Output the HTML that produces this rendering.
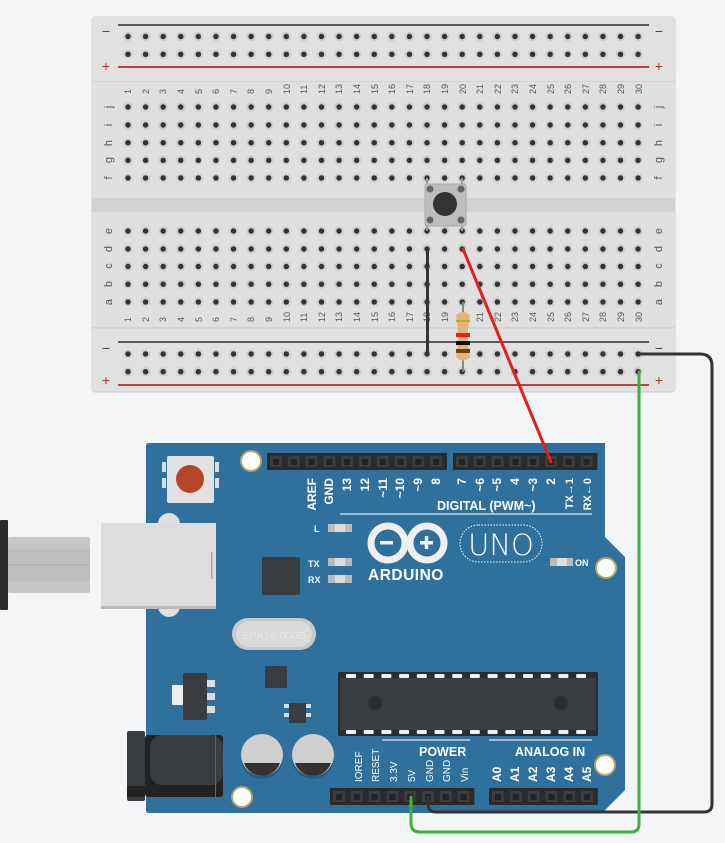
<!DOCTYPE html>
<html><head><meta charset="utf-8"><style>
html,body{margin:0;padding:0;background:#f3f5f7;}
svg{display:block;}
text{font-family:"Liberation Sans",sans-serif;}
</style></head><body>
<svg width="725" height="843" viewBox="0 0 725 843" xmlns="http://www.w3.org/2000/svg">
<rect width="725" height="843" fill="#f3f5f7"/>
<!-- breadboard -->
<rect x="92" y="17" width="583" height="375" rx="3" fill="#dcdcdc" stroke="#d0d0d0"/>
<rect x="92" y="17" width="583" height="64" rx="3" fill="#e1e1e1"/>
<rect x="92" y="81" width="583" height="1.5" fill="#d2d2d2"/>
<rect x="92" y="82" width="583" height="245" fill="#e0e0e0"/>
<rect x="92" y="198" width="583" height="14" fill="#d2d2d2"/>
<rect x="92" y="327" width="583" height="1.5" fill="#d2d2d2"/>
<rect x="92" y="329" width="583" height="62" fill="#e1e1e1"/>
<line x1="118" y1="25" x2="649" y2="25" stroke="#444" stroke-width="1.8"/>
<line x1="118" y1="67" x2="649" y2="67" stroke="#c0272d" stroke-width="1.8"/>
<line x1="118" y1="342" x2="649" y2="342" stroke="#444" stroke-width="1.8"/>
<line x1="118" y1="385" x2="649" y2="385" stroke="#c0272d" stroke-width="1.8"/>
<g font-size="14" text-anchor="middle">
<text x="106" y="36" fill="#444">−</text><text x="106" y="71" fill="#c0272d">+</text>
<text x="659" y="36" fill="#444">−</text><text x="659" y="71" fill="#c0272d">+</text>
<text x="106" y="353" fill="#444">−</text><text x="106" y="385" fill="#c0272d">+</text>
<text x="659" y="353" fill="#444">−</text><text x="659" y="385" fill="#c0272d">+</text>
</g>
<g id="dots"></g>
<g font-size="9" fill="#555" id="nums">
<g transform="translate(0,0)">
<text transform="translate(131,94) rotate(-90)">1</text><text transform="translate(149,94) rotate(-90)">2</text><text transform="translate(166,94) rotate(-90)">3</text><text transform="translate(184,94) rotate(-90)">4</text><text transform="translate(202,94) rotate(-90)">5</text><text transform="translate(219,94) rotate(-90)">6</text><text transform="translate(237,94) rotate(-90)">7</text><text transform="translate(254,94) rotate(-90)">8</text><text transform="translate(272,94) rotate(-90)">9</text><text transform="translate(290,94) rotate(-90)">10</text><text transform="translate(307,94) rotate(-90)">11</text><text transform="translate(325,94) rotate(-90)">12</text><text transform="translate(342,94) rotate(-90)">13</text><text transform="translate(360,94) rotate(-90)">14</text><text transform="translate(378,94) rotate(-90)">15</text><text transform="translate(395,94) rotate(-90)">16</text><text transform="translate(413,94) rotate(-90)">17</text><text transform="translate(430,94) rotate(-90)">18</text><text transform="translate(448,94) rotate(-90)">19</text><text transform="translate(466,94) rotate(-90)">20</text><text transform="translate(483,94) rotate(-90)">21</text><text transform="translate(501,94) rotate(-90)">22</text><text transform="translate(518,94) rotate(-90)">23</text><text transform="translate(536,94) rotate(-90)">24</text><text transform="translate(554,94) rotate(-90)">25</text><text transform="translate(571,94) rotate(-90)">26</text><text transform="translate(589,94) rotate(-90)">27</text><text transform="translate(606,94) rotate(-90)">28</text><text transform="translate(624,94) rotate(-90)">29</text><text transform="translate(642,94) rotate(-90)">30</text>
</g>
<g>
<text transform="translate(131,322) rotate(-90)">1</text><text transform="translate(149,322) rotate(-90)">2</text><text transform="translate(166,322) rotate(-90)">3</text><text transform="translate(184,322) rotate(-90)">4</text><text transform="translate(202,322) rotate(-90)">5</text><text transform="translate(219,322) rotate(-90)">6</text><text transform="translate(237,322) rotate(-90)">7</text><text transform="translate(254,322) rotate(-90)">8</text><text transform="translate(272,322) rotate(-90)">9</text><text transform="translate(290,322) rotate(-90)">10</text><text transform="translate(307,322) rotate(-90)">11</text><text transform="translate(325,322) rotate(-90)">12</text><text transform="translate(342,322) rotate(-90)">13</text><text transform="translate(360,322) rotate(-90)">14</text><text transform="translate(378,322) rotate(-90)">15</text><text transform="translate(395,322) rotate(-90)">16</text><text transform="translate(413,322) rotate(-90)">17</text><text transform="translate(430,322) rotate(-90)">18</text><text transform="translate(448,322) rotate(-90)">19</text><text transform="translate(466,322) rotate(-90)">20</text><text transform="translate(483,322) rotate(-90)">21</text><text transform="translate(501,322) rotate(-90)">22</text><text transform="translate(518,322) rotate(-90)">23</text><text transform="translate(536,322) rotate(-90)">24</text><text transform="translate(554,322) rotate(-90)">25</text><text transform="translate(571,322) rotate(-90)">26</text><text transform="translate(589,322) rotate(-90)">27</text><text transform="translate(606,322) rotate(-90)">28</text><text transform="translate(624,322) rotate(-90)">29</text><text transform="translate(642,322) rotate(-90)">30</text>
</g>
<g font-size="11" text-anchor="middle">
<text transform="translate(112,107) rotate(-90)">j</text><text transform="translate(112,125) rotate(-90)">i</text><text transform="translate(112,143) rotate(-90)">h</text><text transform="translate(112,160) rotate(-90)">g</text><text transform="translate(112,178) rotate(-90)">f</text>
<text transform="translate(112,231) rotate(-90)">e</text><text transform="translate(112,249) rotate(-90)">d</text><text transform="translate(112,266) rotate(-90)">c</text><text transform="translate(112,284) rotate(-90)">b</text><text transform="translate(112,302) rotate(-90)">a</text>
<text transform="translate(662,107) rotate(-90)">j</text><text transform="translate(662,125) rotate(-90)">i</text><text transform="translate(662,143) rotate(-90)">h</text><text transform="translate(662,160) rotate(-90)">g</text><text transform="translate(662,178) rotate(-90)">f</text>
<text transform="translate(662,231) rotate(-90)">e</text><text transform="translate(662,249) rotate(-90)">d</text><text transform="translate(662,266) rotate(-90)">c</text><text transform="translate(662,284) rotate(-90)">b</text><text transform="translate(662,302) rotate(-90)">a</text>
</g>
</g>
<!-- pushbutton -->
<g>
<line x1="427" y1="178" x2="427" y2="231" stroke="#999" stroke-width="2"/>
<line x1="462" y1="178" x2="462" y2="231" stroke="#999" stroke-width="2"/>
<rect x="425" y="184" width="41" height="42" rx="2" fill="#bdbdbd" stroke="#aaa"/>
<circle cx="430" cy="189" r="3.5" fill="#666"/><circle cx="461" cy="189" r="3.5" fill="#666"/>
<circle cx="430" cy="220" r="3.5" fill="#666"/><circle cx="461" cy="220" r="3.5" fill="#666"/>
<circle cx="445" cy="204" r="12" fill="#333"/>
</g>
<!-- black wire col18 -->
<line x1="427.5" y1="249" x2="427.5" y2="354" stroke="#333" stroke-width="3" stroke-linecap="round"/>
<!-- resistor -->
<line x1="463" y1="302" x2="463" y2="372" stroke="#888" stroke-width="2"/>
<path d="M456,315 Q463,309 470,315 L469,322 Q467,337 469,350 L470,357 Q463,364 456,357 L457,350 Q459,337 457,322 Z" fill="#e0b57a"/>
<rect x="456" y="320" width="14" height="2" fill="#c9a227"/>
<rect x="456" y="333" width="14" height="4" fill="#e82020"/>
<rect x="456" y="341" width="14" height="4" fill="#111"/>
<rect x="456" y="349" width="14" height="4" fill="#7a3d14"/>
<!-- arduino board -->
<path d="M146,446 Q146,443 149,443 L605,443 L605,537 L625,557 L625,790 L605,810 L605,813 L149,813 Q146,813 146,810 Z" fill="#30709d"/>
<!-- headers -->
<g id="hdr"></g>
<!-- mounting holes -->
<g fill="#fff" stroke="#b8a462" stroke-width="2">
<circle cx="251" cy="461" r="10"/><circle cx="606" cy="568" r="10"/><circle cx="605" cy="765" r="10"/><circle cx="242" cy="797" r="10"/>
</g>
<!-- reset button -->
<rect x="162" y="462" width="4" height="10" fill="#ddd"/><rect x="215" y="462" width="4" height="10" fill="#ddd"/>
<rect x="162" y="478" width="4" height="10" fill="#ddd"/><rect x="215" y="478" width="4" height="10" fill="#ddd"/>
<rect x="167" y="456" width="47" height="47" rx="2" fill="#e2e2e2"/>
<circle cx="190" cy="479" r="14" fill="#b5462c"/>
<!-- USB -->
<rect x="0" y="520" width="8" height="90" rx="1" fill="#2c2c2c"/>
<rect x="8" y="537" width="82" height="56" rx="2" fill="#c6c6c6"/>
<rect x="8" y="549" width="82" height="32" fill="#bdbdbd"/>
<line x1="8" y1="565" x2="90" y2="565" stroke="#aaa"/>
<circle cx="169" cy="524" r="11" fill="#e0e0e0"/><circle cx="169" cy="606" r="11" fill="#e0e0e0"/>
<rect x="101" y="523" width="115" height="85" fill="#dddddd"/>
<rect x="101" y="606" width="115" height="3" fill="#bbb"/>
<rect x="211" y="552" width="1.5" height="27" fill="#aaa"/>
<!-- chips -->
<rect x="262" y="557" width="38" height="38" rx="2" fill="#3a3d40"/>
<rect x="232" y="618" width="84" height="32" rx="16" fill="#c9c9c9"/>
<rect x="236" y="621" width="76" height="26" rx="13" fill="#dadada"/>
<text x="274" y="639" font-size="11" fill="#e9e9e9" text-anchor="middle">SPK16.000G</text>
<rect x="265" y="666" width="22" height="22" rx="1" fill="#3a3d40"/>
<rect x="172" y="685" width="12" height="20" rx="1" fill="#eee"/>
<rect x="207" y="680" width="8" height="7" fill="#ddd"/><rect x="207" y="693" width="8" height="7" fill="#ddd"/><rect x="207" y="706" width="8" height="7" fill="#ddd"/>
<rect x="183" y="673" width="24" height="47" rx="2" fill="#3a3d40"/>
<rect x="284" y="704" width="5" height="4" fill="#ddd"/><rect x="284" y="713" width="5" height="4" fill="#ddd"/><rect x="306" y="704" width="5" height="4" fill="#ddd"/><rect x="306" y="713" width="5" height="4" fill="#ddd"/>
<rect x="289" y="703" width="17" height="20" fill="#3a3d40"/>
<!-- power jack -->
<rect x="127" y="731" width="18" height="70" rx="2" fill="#3a3d40"/>
<rect x="127" y="786" width="18" height="11" fill="#222"/>
<rect x="145" y="735" width="78" height="62" rx="3" fill="#222"/>
<rect x="150" y="735" width="73" height="50" rx="12" fill="#3a3d40"/>
<rect x="215" y="735" width="1" height="62" fill="#666"/>
<!-- capacitors -->
<circle cx="262" cy="758" r="21" fill="#2a5a80"/><circle cx="262" cy="755" r="21" fill="#cfcfcf"/>
<path d="M244,763 A19,19 0 0,0 280,763 Z" fill="#333"/>
<circle cx="313" cy="758" r="21" fill="#2a5a80"/><circle cx="313" cy="755" r="21" fill="#cfcfcf"/>
<path d="M295,763 A19,19 0 0,0 331,763 Z" fill="#333"/>
<!-- atmega -->
<rect x="338" y="672" width="260" height="64" rx="2" fill="#2b2d30"/>
<rect x="340" y="678" width="256" height="52" fill="#3a3d40"/>
<g id="pins" fill="#eee"></g>
<circle cx="375" cy="703" r="7" fill="#2b2d30"/><circle cx="561" cy="703" r="7" fill="#2b2d30"/>
<!-- labels -->
<g fill="#fff" font-weight="bold" font-size="12">
<g text-anchor="end">
<text transform="translate(316,478) rotate(-90)">AREF</text><text transform="translate(333,478) rotate(-90)">GND</text>
<text transform="translate(351,478) rotate(-90)">13</text><text transform="translate(369,478) rotate(-90)">12</text>
<text transform="translate(387,478) rotate(-90)">~11</text><text transform="translate(404,478) rotate(-90)">~10</text>
<text transform="translate(422,478) rotate(-90)">~9</text><text transform="translate(440,478) rotate(-90)">8</text>
<text transform="translate(466,478) rotate(-90)">7</text><text transform="translate(484,478) rotate(-90)">~6</text>
<text transform="translate(501,478) rotate(-90)">~5</text><text transform="translate(519,478) rotate(-90)">4</text>
<text transform="translate(537,478) rotate(-90)">~3</text><text transform="translate(555,478) rotate(-90)">2</text>
<text transform="translate(573,478) rotate(-90)" font-size="11">TX→1</text><text transform="translate(591,478) rotate(-90)" font-size="11">RX←0</text>
</g>
<text x="437" y="510" font-size="12.5">DIGITAL (PWM~)</text>
<text x="419" y="756" font-size="12.5">POWER</text>
<text x="515" y="756" font-size="12.5">ANALOG IN</text>
<g font-size="10" font-weight="normal">
<text transform="translate(362,782) rotate(-90)">IOREF</text><text transform="translate(379,782) rotate(-90)">RESET</text>
<text transform="translate(397,782) rotate(-90)">3.3V</text><text transform="translate(415,782) rotate(-90)">5V</text>
<text transform="translate(433,782) rotate(-90)">GND</text><text transform="translate(450,782) rotate(-90)">GND</text>
<text transform="translate(468,782) rotate(-90)">Vin</text>
</g>
<text transform="translate(501,782) rotate(-90)">A0</text><text transform="translate(519,782) rotate(-90)">A1</text>
<text transform="translate(537,782) rotate(-90)">A2</text><text transform="translate(555,782) rotate(-90)">A3</text>
<text transform="translate(573,782) rotate(-90)">A4</text><text transform="translate(591,782) rotate(-90)">A5</text>
<text x="314" y="532" font-size="9">L</text>
<text x="308" y="567" font-size="9">TX</text>
<text x="308" y="583" font-size="9">RX</text>
<text x="575" y="566" font-size="9">ON</text>
<text x="368" y="580" font-size="15.5" letter-spacing="0.5">ARDUINO</text>
</g>
<line x1="340" y1="514" x2="592" y2="514" stroke="#dfe8f0" stroke-width="1.2"/>
<line x1="382" y1="740" x2="470" y2="740" stroke="#dfe8f0" stroke-width="1.2"/>
<line x1="489" y1="740" x2="592" y2="740" stroke="#dfe8f0" stroke-width="1.2"/>
<g>
<rect x="328" y="524" width="24" height="8" fill="#bbb"/><rect x="335" y="524" width="10" height="8" fill="#ddd"/>
<rect x="328" y="558" width="24" height="8" fill="#bbb"/><rect x="335" y="558" width="10" height="8" fill="#ddd"/>
<rect x="328" y="575" width="24" height="8" fill="#bbb"/><rect x="335" y="575" width="10" height="8" fill="#ddd"/>
<rect x="550" y="558" width="23" height="8" fill="#bbb"/><rect x="557" y="558" width="10" height="8" fill="#ddd"/>
</g>
<!-- logo -->
<circle cx="388" cy="543" r="17" fill="none" stroke="#f0f0f0" stroke-width="7"/>
<circle cx="427" cy="543" r="17" fill="none" stroke="#f0f0f0" stroke-width="7"/>
<rect x="380" y="541" width="13" height="3.5" fill="#f0f0f0"/>
<rect x="420" y="541" width="13" height="3.5" fill="#f0f0f0"/><rect x="424.8" y="536" width="3.5" height="13" fill="#f0f0f0"/>
<rect x="460" y="525" width="82" height="37" rx="18.5" fill="none" stroke="#fff" stroke-width="1" stroke-dasharray="1.5 1.5"/>
<text x="501" y="555" font-size="29" fill="#fff" text-anchor="middle" font-weight="normal" style="font-family:'DejaVu Sans',sans-serif;font-weight:200">UNO</text>
<!-- wires -->
<line x1="463" y1="249" x2="551" y2="462" stroke="#e3201b" stroke-width="3" stroke-linecap="round"/>
<path d="M639,354 L700,354 Q712,354 712,366 L712,804 Q712,812 704,812 L436,812 Q428,812 428,804 L428,797" fill="none" stroke="#333" stroke-width="3" stroke-linecap="round"/>
<path d="M639,372 L639,824 Q639,832 631,832 L420,832 Q411,832 411,823 L411,797" fill="none" stroke="#3cb43c" stroke-width="3" stroke-linecap="round"/>
</svg>
<script>
var ns="http://www.w3.org/2000/svg";
function el(p,t,a){var e=document.createElementNS(ns,t);for(var k in a)e.setAttribute(k,a[k]);p.appendChild(e);return e;}
var d=document.getElementById("dots");
var rows=[36.5,54.3,107,125,142.7,160.3,178,231,249,266.5,284.2,302,354,371.7];
for(var c=0;c<30;c++){var x=128+c*17.59;for(var r=0;r<rows.length;r++){el(d,"circle",{cx:x,cy:rows[r],r:4.6,fill:"#cdcdcd"});el(d,"circle",{cx:x,cy:rows[r],r:2.7,fill:"#333"});}}
var h=document.getElementById("hdr");
function hdr(x0,n,y){el(h,"rect",{x:x0,y:y,width:n*17.8+2,height:17,fill:"#2a2a2a"});for(var i=0;i<n;i++){el(h,"rect",{x:x0+3+i*17.8,y:y+3,width:12,height:11,fill:"#3c3c3c"});el(h,"rect",{x:x0+6+i*17.8,y:y+6,width:6,height:6,fill:"#222"});}}
hdr(267,10,453);hdr(453,8,453);hdr(330,8,788);hdr(489,6,788);
var p=document.getElementById("pins");
for(var i=0;i<14;i++){var x=346+i*17.7;el(p,"rect",{x:x,y:674,width:10,height:4,rx:1});el(p,"rect",{x:x,y:730,width:10,height:4,rx:1});}
</script>
</body></html>
